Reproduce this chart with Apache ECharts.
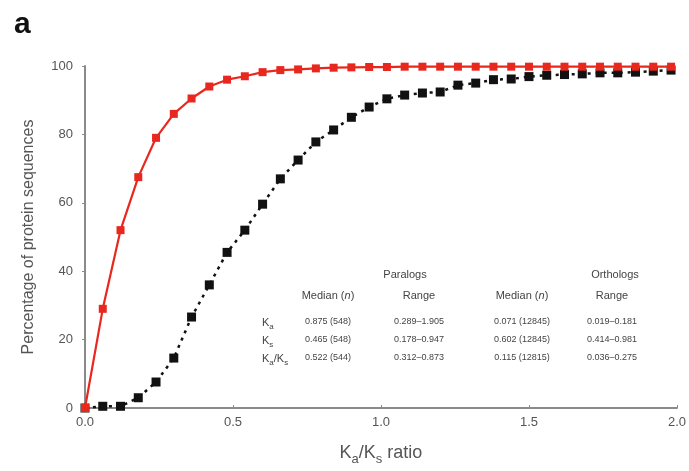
<!doctype html>
<html lang="en">
<head>
<meta charset="utf-8"/>
<title>Ka/Ks cumulative distribution</title>
<style>
  html, body { margin: 0; padding: 0; background: #fff; }
  #chart { width: 689px; height: 471px; }
</style>
</head>
<body>
<div id="chart"></div>
<script src="https://cdn.jsdelivr.net/npm/echarts@6/dist/echarts.min.js"></script>
<script>
  // Ka/Ks ratio sampled every 0.06
  const ratios = [0, 0.06, 0.12, 0.18, 0.24, 0.30, 0.36, 0.42, 0.48, 0.54, 0.60,
    0.66, 0.72, 0.78, 0.84, 0.90, 0.96, 1.02, 1.08, 1.14, 1.20, 1.26, 1.32, 1.38,
    1.44, 1.50, 1.56, 1.62, 1.68, 1.74, 1.80, 1.86, 1.92, 1.98];
  // cumulative % of orthologs (red) and paralogs (black)
  const orthologs = [0, 29, 52, 67.5, 79, 86, 90.5, 94, 96, 97, 98.2, 98.8, 99,
    99.3, 99.5, 99.6, 99.7, 99.7, 99.8, 99.8, 99.8, 99.8, 99.8, 99.8, 99.8, 99.8,
    99.8, 99.8, 99.8, 99.8, 99.8, 99.8, 99.8, 99.8];
  const paralogs = [0, 0.5, 0.5, 3, 7.6, 14.6, 26.6, 36, 45.5, 52, 59.6, 67, 72.5,
    77.8, 81.3, 85, 88, 90.4, 91.5, 92.1, 92.4, 94.4, 95, 96, 96.2, 96.9, 97.3,
    97.5, 97.7, 98, 98, 98.2, 98.5, 98.8];
  const yTicks = [0, 20, 40, 60, 80, 100];

  // summary table shown inside the plot
  const groups = ["Paralogs", "Orthologs"];
  const rowLabels = ["{k|K}{s|a}", "{k|K}{s|s}", "{k|K}{s|a}{k|/K}{s|s}"];
  const paraMedian = ["0.875 (548)", "0.465 (548)", "0.522 (544)"];
  const paraRange = ["0.289\u20131.905", "0.178\u20130.947", "0.312\u20130.873"];
  const orthoMedian = ["0.071 (12845)", "0.602 (12845)", "0.115 (12815)"];
  const orthoRange = ["0.019\u20130.181", "0.414\u20130.981", "0.036\u20130.275"];

  const FONT = "Liberation Sans, Arial, sans-serif";
  const GREY = "#555";
  const AXIS = "#8a8a8a";

  const chart = echarts.init(document.getElementById("chart"), null, { renderer: "canvas" });

  const txt = (x, y, text, size, extra) => ({
    type: "text", x, y,
    style: Object.assign({ text, fill: "#444", font: `${size}px ${FONT}`,
      textVerticalAlign: "middle" }, extra || {}),
  });
  const medianRich = {
    n: { fontSize: 11, fontFamily: FONT, fill: "#444" },
    i: { fontSize: 11, fontFamily: FONT, fontStyle: "italic", fill: "#444" },
  };

  const rowY = [322, 340, 358];
  const graphic = [
    { type: "text", left: 14, top: 10,
      style: { text: "a", fill: "#111", font: `bold 30px ${FONT}` } },
    txt(405, 275, groups[0], 11, { textAlign: "center" }),
    txt(615, 275, groups[1], 11, { textAlign: "center" }),
    txt(328, 296, "{n|Median (}{i|n}{n|)}", 11, { textAlign: "center", rich: medianRich }),
    txt(419, 296, "Range", 11, { textAlign: "center" }),
    txt(522, 296, "{n|Median (}{i|n}{n|)}", 11, { textAlign: "center", rich: medianRich }),
    txt(612, 296, "Range", 11, { textAlign: "center" }),
  ];
  rowY.forEach((y, i) => {
    graphic.push(txt(262, y + 2, rowLabels[i], 11, {
      rich: {
        k: { fontSize: 11, fontFamily: FONT, fill: "#444", lineHeight: 13, verticalAlign: "top" },
        s: { fontSize: 8, fontFamily: FONT, fill: "#444", lineHeight: 9, verticalAlign: "bottom",
             padding: [8, 0, 0, 0] },
      },
    }));
    graphic.push(txt(328, y, paraMedian[i], 9, { textAlign: "center" }));
    graphic.push(txt(419, y, paraRange[i], 9, { textAlign: "center" }));
    graphic.push(txt(522, y, orthoMedian[i], 9, { textAlign: "center" }));
    graphic.push(txt(612, y, orthoRange[i], 9, { textAlign: "center" }));
  });

  chart.setOption({
    animation: false,
    backgroundColor: "#fff",
    grid: { left: 85, right: 12, top: 66, bottom: 63 },
    xAxis: {
      type: "value", min: 0, max: 2, interval: 0.5,
      name: "{k|K}{s|a}{k|/K}{s|s}{k| ratio}",
      nameLocation: "middle", nameGap: 36,
      nameTextStyle: {
        rich: {
          k: { fontSize: 18, fontFamily: FONT, color: GREY, lineHeight: 22, verticalAlign: "top" },
          s: { fontSize: 13, fontFamily: FONT, color: GREY, lineHeight: 14, verticalAlign: "bottom",
               padding: [10, 0, 0, 0] },
        },
      },
      axisLine: { lineStyle: { color: AXIS, width: 2 } },
      axisTick: { inside: true, length: 3, lineStyle: { color: AXIS } },
      axisLabel: { color: GREY, fontSize: 13, fontFamily: FONT, margin: 8,
        formatter: (v) => v.toFixed(1) },
      splitLine: { show: false },
    },
    yAxis: {
      type: "value", min: yTicks[0], max: yTicks[yTicks.length - 1], interval: 20,
      name: "Percentage of protein sequences",
      nameLocation: "middle", nameGap: 48,
      nameTextStyle: { color: GREY, fontSize: 16, fontFamily: FONT },
      axisLine: { show: true, lineStyle: { color: AXIS, width: 2 } },
      axisTick: { show: true, length: 3, lineStyle: { color: AXIS } },
      axisLabel: { color: GREY, fontSize: 13, fontFamily: FONT, margin: 12 },
      splitLine: { show: false },
    },
    series: [
      {
        name: "Paralogs", type: "line",
        data: ratios.map((x, i) => [x, paralogs[i]]),
        symbol: "rect", symbolSize: 9,
        itemStyle: { color: "#111" },
        lineStyle: { color: "#111", width: 2.5, type: [3, 5] },
        z: 2,
      },
      {
        name: "Orthologs", type: "line",
        data: ratios.map((x, i) => [x, orthologs[i]]),
        symbol: "rect", symbolSize: 8,
        itemStyle: { color: "#e8281e" },
        lineStyle: { color: "#e8281e", width: 2.2 },
        z: 3,
      },
    ],
    graphic,
  });
</script>
</body>
</html>
